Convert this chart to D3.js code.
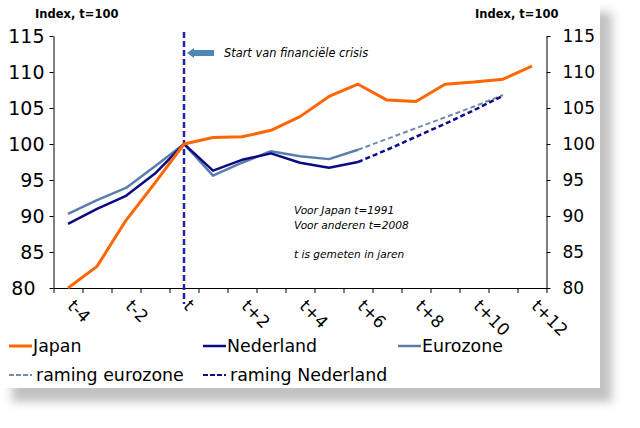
<!DOCTYPE html>
<html>
<head>
<meta charset="utf-8">
<script src="https://cdn.jsdelivr.net/npm/d3@7"></script>
<style>
html,body{margin:0;padding:0;background:#fff;}
svg{display:block;}
text{font-family:"DejaVu Sans",Verdana,sans-serif;}
</style>
</head>
<body>
<svg id="chart" width="640" height="428"></svg>
<script>
// ---- data ----
const categories = ["t-4","t-3","t-2","t-1","t","t+1","t+2","t+3","t+4","t+5","t+6","t+7","t+8","t+9","t+10","t+11","t+12"];
const tickLabels = ["t-4","t-2","t","t+2","t+4","t+6","t+8","t+10","t+12"];
const yTicks = [80,85,90,95,100,105,110,115];
const japan     = [80.0,83.0,89.4,94.6,100,100.9,101.0,101.9,103.8,106.6,108.3,106.1,105.9,108.3,108.6,109.0,110.8];
const nederland = [88.9,91.0,92.8,95.9,100,96.3,97.8,98.7,97.4,96.7,97.5];
const eurozone  = [90.3,92.2,93.9,96.9,100,95.6,97.4,99.0,98.3,97.9,99.2];
const ramingNederlandStart = 10;
const ramingNederland = [97.5,99.2,101.0,102.8,104.7,106.7];
const ramingEurozoneStart = 10;
const ramingEurozone  = [99.2,100.7,102.2,103.7,105.2,106.8];
const crisisIndex = 4;

const colors = {japan:"#ff6600", ned:"#0a0a84", euro:"#5a7eab", rEuro:"#7489ab", rNed:"#0b0b8c", vline:"#2222a8", arrow:"#4b88b6"};

const svg = d3.select("#chart");
const defs = svg.append("defs");
const f = defs.append("filter").attr("id","blur").attr("x","-10%").attr("y","-10%").attr("width","130%").attr("height","130%");
f.append("feGaussianBlur").attr("stdDeviation",5);

// background card with shadow
svg.append("rect").attr("x",12).attr("y",12).attr("width",600).attr("height",390).attr("fill","#c2c2c2").attr("filter","url(#blur)");
svg.append("rect").attr("x",0).attr("y",0).attr("width",600).attr("height",388).attr("fill","#fff");

const L = 53.5, R = 546.5, T = 36, B = 288;
const x = d3.scaleLinear().domain([-0.5, categories.length-0.5]).range([L,R]);
const y = d3.scaleLinear().domain([80,115]).range([B,T]);

// axes
const axL = svg.append("g").attr("transform",`translate(${L},0)`)
  .call(d3.axisLeft(y).tickValues(yTicks).tickSize(4).tickSizeOuter(0).tickPadding(5));
axL.selectAll("text").style("font-size","19px").attr("fill","#000");
axL.selectAll("text").filter(d=>d===80).attr("dx","-9");
const axR = svg.append("g").attr("transform",`translate(${R},0)`)
  .call(d3.axisRight(y).tickValues(yTicks).tickSize(4).tickSizeOuter(0).tickPadding(12));
axR.selectAll("text").style("font-size","17px").attr("fill","#000");
const axB = svg.append("g").attr("transform",`translate(0,${B})`)
  .call(d3.axisBottom(x).tickValues(d3.range(-0.5, categories.length, 1)).tickSize(5).tickSizeOuter(0).tickFormat(""));
svg.selectAll(".domain, .tick line").attr("stroke","#000").attr("stroke-width",1);

// x labels rotated
svg.append("g").selectAll("text").data(tickLabels).join("text")
  .attr("transform", d => `translate(${x(categories.indexOf(d))-1.5},307) rotate(45)`)
  .attr("text-anchor","start").style("font-size","17px").text(d=>d);

// vertical crisis line
svg.append("line").attr("x1",x(crisisIndex)).attr("x2",x(crisisIndex)).attr("y1",32).attr("y2",304)
  .attr("stroke",colors.vline).attr("stroke-width",2.5).attr("stroke-dasharray","6,3");

// lines
const line = d3.line().defined(d=>d!=null).x(d=>x(d.i)).y(d=>y(d.v));
const toPts = (arr, start=0) => arr.map((v,k)=>({i:start+k, v}));
svg.append("path").attr("d",line(toPts(ramingEurozone,ramingEurozoneStart))).attr("fill","none")
  .attr("stroke",colors.rEuro).attr("stroke-width",2).attr("stroke-dasharray","5,3");
svg.append("path").attr("d",line(toPts(ramingNederland,ramingNederlandStart))).attr("fill","none")
  .attr("stroke",colors.rNed).attr("stroke-width",2.5).attr("stroke-dasharray","5,3");
svg.append("path").attr("d",line(toPts(eurozone))).attr("fill","none")
  .attr("stroke",colors.euro).attr("stroke-width",2.5).attr("stroke-linejoin","round");
svg.append("path").attr("d",line(toPts(nederland))).attr("fill","none")
  .attr("stroke",colors.ned).attr("stroke-width",2.5).attr("stroke-linejoin","round");
svg.append("path").attr("d",line(toPts(japan))).attr("fill","none")
  .attr("stroke",colors.japan).attr("stroke-width",3).attr("stroke-linejoin","round");

// arrow annotation
const ax0 = x(crisisIndex)+3, ay = 53;
svg.append("path").attr("d",`M${ax0},${ay} L${ax0+7},${ay-5} L${ax0+7},${ay-3} L${ax0+27},${ay-3} L${ax0+27},${ay+3} L${ax0+7},${ay+3} L${ax0+7},${ay+5} Z`)
  .attr("fill",colors.arrow);
svg.append("text").attr("x",224).attr("y",57).style("font-size","11.4px").style("font-style","italic").text("Start van financiële crisis");

// note text
const notes = [["Voor Japan t=1991",214],["Voor anderen t=2008",229],["t is gemeten in jaren",258]];
svg.append("g").selectAll("text").data(notes).join("text")
  .attr("x",294).attr("y",d=>d[1]).style("font-size","10.6px").style("font-style","italic").text(d=>d[0]);

// axis titles
svg.append("text").attr("x",35).attr("y",18).style("font-size","11.5px").style("font-weight","bold").text("Index, t=100");
svg.append("text").attr("x",475).attr("y",18).style("font-size","11.5px").style("font-weight","bold").text("Index, t=100");

// legend
const legend = [
  {name:"Japan", c:colors.japan, dash:null, w:3, x:9, y:346},
  {name:"Nederland", c:colors.ned, dash:null, w:2.5, x:203, y:346},
  {name:"Eurozone", c:colors.euro, dash:null, w:2.5, x:398, y:346},
  {name:"raming eurozone", c:colors.rEuro, dash:"5,2", w:2, x:9, y:375},
  {name:"raming Nederland", c:colors.rNed, dash:"5,2", w:2, x:203, y:375}
];
const lg = svg.append("g").selectAll("g").data(legend).join("g");
lg.append("line").attr("x1",d=>d.x).attr("x2",d=>d.x+23).attr("y1",d=>d.y).attr("y2",d=>d.y)
  .attr("stroke",d=>d.c).attr("stroke-width",d=>d.w).attr("stroke-dasharray",d=>d.dash);
lg.append("text").attr("x",d=>d.x+24+(d.dash?3:0)).attr("y",d=>d.y+6).style("font-size","17.4px").text(d=>d.name);
</script>
</body>
</html>
